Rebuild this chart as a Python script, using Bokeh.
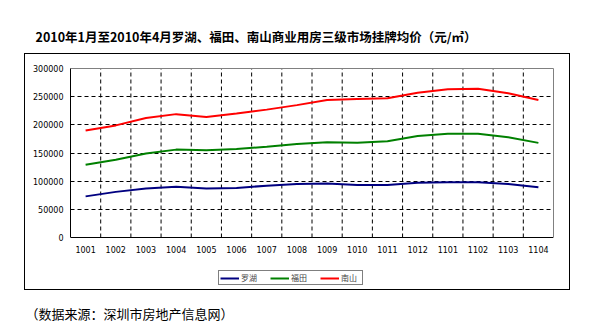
from bokeh.plotting import figure
from bokeh.models import (Range1d, FixedTicker, ColumnDataSource, Legend, LegendItem,
                          Title, BasicTickFormatter, InlineStyleSheet, LinearAxis)
from bokeh.embed import file_html
from bokeh.resources import INLINE

months = ["1001", "1002", "1003", "1004", "1005", "1006", "1007", "1008",
          "1009", "1010", "1011", "1012", "1101", "1102", "1103", "1104"]
luohu = [73000, 81000, 87000, 90000, 87000, 88000, 92000, 95000,
         96000, 93000, 93000, 97000, 98000, 98000, 95000, 89000]
futian = [129000, 138000, 149000, 156000, 155000, 157000, 161000, 166000,
          169000, 168000, 171000, 180000, 184000, 184000, 178000, 168000]
nanshan = [190000, 199000, 212000, 219000, 214000, 220000, 227000, 235000,
           244000, 246000, 247000, 257000, 263000, 264000, 256000, 244000]
series_names = ["罗湖", "福田", "南山"]
series_colors = ["#000080", "#008000", "#FF0000"]
y_ticks = [0, 50000, 100000, 150000, 200000, 250000, 300000]

title_text = "2010年1月至2010年4月罗湖、福田、南山商业用房三级市场挂牌均价（元/㎡）"
source_text = "（数据来源：深圳市房地产信息网）"

xs = list(range(len(months)))
src = ColumnDataSource(dict(x=xs, luohu=luohu, futian=futian, nanshan=nanshan))
bounds = [i + 0.5 for i in xs[:-1]]
vgrid = ColumnDataSource(dict(x=bounds, y0=[y_ticks[0]] * len(bounds),
                              y1=[y_ticks[-1]] * len(bounds)))

# layout geometry (pixels)
FRAME_TOP, AXIS_Y, FRAME_BOTTOM = 68, 237, 300
ymin, ymax = y_ticks[0], y_ticks[-1]
y_lo = ymin - (FRAME_BOTTOM - AXIS_Y) * (ymax - ymin) / (AXIS_Y - FRAME_TOP)

# decorative outer chart frame (drawn with CSS around the chart region)
frame_css = InlineStyleSheet(css="""
:host::after { content: ""; position: absolute; left: 24px; top: 53px;
  width: 544px; height: 235px; border: 1px solid black; pointer-events: none; }
""")

p = figure(width=608, height=329, output_backend="svg", toolbar_location=None,
           x_range=Range1d(-0.5, len(months) - 0.5), y_range=Range1d(y_lo, ymax),
           min_border_left=70, min_border_right=55, min_border_top=FRAME_TOP,
           min_border_bottom=329 - FRAME_BOTTOM,
           background_fill_color="white", border_fill_color="white",
           stylesheets=[frame_css])
p.outline_line_color = None

# title
p.title.text = title_text
p.title.align = "left"
p.title.offset = -35
p.title.standoff = 45
p.title.text_font = "Noto Sans CJK SC"
p.title.text_font_style = "bold"
p.title.text_font_size = "12.5px"
p.title.text_color = "black"

# axes
p.xaxis.ticker = FixedTicker(ticks=xs)
p.xaxis.major_label_overrides = {i: m for i, m in enumerate(months)}
p.xaxis.fixed_location = ymin
p.yaxis.ticker = FixedTicker(ticks=y_ticks)
p.yaxis.formatter = BasicTickFormatter(use_scientific=False)
p.yaxis.bounds = (ymin, ymax)
for ax in (p.xaxis, p.yaxis):
    ax.axis_line_color = "black"
    ax.axis_line_width = 1
    ax.major_tick_in = 0
    ax.major_tick_out = 0
    ax.minor_tick_in = 0
    ax.minor_tick_out = 0
    ax.major_label_text_font = "DejaVu Sans"
    ax.major_label_text_font_size = "8px"
    ax.major_label_text_color = "black"
p.xaxis.major_label_standoff = 8
p.yaxis.major_label_standoff = 7

# gray top / right border of plot area
top_ax = LinearAxis(ticker=FixedTicker(ticks=[]), axis_line_color="#808080",
                    major_tick_in=0, major_tick_out=0, minor_tick_in=0, minor_tick_out=0,
                    major_label_standoff=0, major_label_text_font_size="0px")
right_ax = LinearAxis(ticker=FixedTicker(ticks=[]), axis_line_color="#808080",
                      bounds=(ymin, ymax),
                      major_tick_in=0, major_tick_out=0, minor_tick_in=0, minor_tick_out=0,
                      major_label_standoff=0, major_label_text_font_size="0px")
p.add_layout(top_ax, "above")
p.add_layout(right_ax, "right")

# grids
p.xgrid.visible = False
p.ygrid.ticker = FixedTicker(ticks=y_ticks[1:-1])
p.ygrid.grid_line_color = "black"
p.ygrid.grid_line_dash = "4 3"
p.ygrid.grid_line_width = 1
p.segment(x0="x", y0="y0", x1="x", y1="y1", source=vgrid,
          line_color="black", line_dash="4 3", line_width=1)

renderers = []
for col, name, color in zip(["luohu", "futian", "nanshan"], series_names, series_colors):
    r = p.line("x", col, source=src, line_color=color, line_width=2)
    renderers.append((name, r))

legend = Legend(items=[LegendItem(label=n, renderers=[r]) for n, r in renderers],
                orientation="horizontal", location=(148, 15),
                border_line_color="black", border_line_width=1,
                background_fill_color="white", background_fill_alpha=1,
                padding=1, spacing=9, margin=0, label_standoff=2,
                glyph_width=19, glyph_height=8, label_height=8,
                label_text_font="Noto Sans CJK SC", label_text_font_size="8px")
p.add_layout(legend)

# source note
note = Title(text=source_text, align="left", offset=-45, standoff=3,
             text_font="Noto Sans CJK SC", text_font_style="normal",
             text_font_size="13px", text_color="black")
p.add_layout(note, "below")

open("out.html", "w").write(file_html(p, INLINE))
